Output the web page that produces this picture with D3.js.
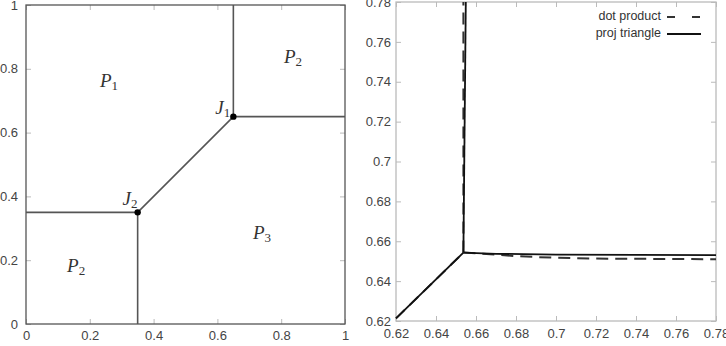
<!DOCTYPE html>
<html>
<head>
<meta charset="utf-8">
<script src="https://cdn.jsdelivr.net/npm/d3@7"></script>
<style>
  body { margin: 0; background: #fff; }
  svg { display: block; }
  .tick text { font-family: "Liberation Sans", Arial, sans-serif; fill: #444; }
</style>
</head>
<body>
<svg id="chart" width="726" height="346"></svg>
<script>
// left panel: partition of the unit square
var leftTicks = [0, 0.2, 0.4, 0.6, 0.8, 1];
var leftTickLabels = ["0", "0.2", "0.4", "0.6", "0.8", "1"];
var boundaries = [
  [[0.65, 1], [0.65, 0.65]],
  [[0.65, 0.65], [1, 0.65]],
  [[0.35, 0.35], [0.65, 0.65]],
  [[0, 0.35], [0.35, 0.35]],
  [[0.35, 0], [0.35, 0.35]]
];
var junctions = [[0.65, 0.65], [0.35, 0.35]];
var junctionNames = ["J", "J"];
var junctionSubs = ["1", "2"];
var junctionLabelAt = [[0.617, 0.672], [0.326, 0.385]];
var regionNames = ["P", "P", "P", "P"];
var regionSubs = ["1", "2", "3", "2"];
var regionLabelAt = [[0.26, 0.755], [0.837, 0.83], [0.74, 0.28], [0.157, 0.175]];

// right panel: zoom near J1
var rightTicks = [0.62, 0.64, 0.66, 0.68, 0.7, 0.72, 0.74, 0.76, 0.78];
var rightTickLabels = ["0.62", "0.64", "0.66", "0.68", "0.7", "0.72", "0.74", "0.76", "0.78"];
var seriesNames = ["dot product", "proj triangle"];
var dotProduct = [
  [[0.62, 0.6213], [0.6537, 0.6543]],
  [[0.6537, 0.6543], [0.6537, 0.78]],
  [[0.6537, 0.6543], [0.66, 0.654], [0.68, 0.6525], [0.70, 0.6517], [0.72, 0.6513], [0.76, 0.6511], [0.78, 0.651]]
];
var projTriangle = [
  [[0.62, 0.6213], [0.6537, 0.6543]],
  [[0.6537, 0.6543], [0.6549, 0.78]],
  [[0.6537, 0.6543], [0.67, 0.6537], [0.70, 0.6533], [0.78, 0.653]]
];

var svg = d3.select("#chart");
var line = d3.line();

// ---------- left panel ----------
var x1 = d3.scaleLinear().domain([0, 1]).range([26, 345]);
var y1 = d3.scaleLinear().domain([0, 1]).range([324, 5]);
var gL = svg.append("g");

function frame(g, x, y, ticks, labels, col, padX, padY) {
  var fmt = function(d, i) { return labels[i]; };
  g.append("g").attr("transform", "translate(0," + y.range()[0] + ")")
    .call(d3.axisBottom(x).tickValues(ticks).tickFormat(fmt).tickSize(-5).tickPadding(padX));
  g.append("g").attr("transform", "translate(0," + y.range()[1] + ")")
    .call(d3.axisTop(x).tickValues(ticks).tickFormat("").tickSize(-5));
  g.append("g").attr("transform", "translate(" + x.range()[0] + ",0)")
    .call(d3.axisLeft(y).tickValues(ticks).tickFormat(fmt).tickSize(-5).tickPadding(padY));
  g.append("g").attr("transform", "translate(" + x.range()[1] + ",0)")
    .call(d3.axisRight(y).tickValues(ticks).tickFormat("").tickSize(-5));
  g.selectAll(".domain").remove();
  g.selectAll(".tick line").attr("stroke", "#bbb");
  g.selectAll(".tick text").style("font-size", "13px");
  g.append("rect")
    .attr("x", x.range()[0]).attr("y", y.range()[1])
    .attr("width", x.range()[1] - x.range()[0]).attr("height", y.range()[0] - y.range()[1])
    .attr("fill", "none").attr("stroke", col).attr("stroke-width", 1.3);
}
frame(gL, x1, y1, leftTicks, leftTickLabels, "#555", 7, 8);

gL.selectAll("path.bd").data(boundaries).enter().append("path")
  .attr("class", "bd")
  .attr("d", function(d) { return line(d.map(function(p) { return [x1(p[0]), y1(p[1])]; })); })
  .attr("fill", "none").attr("stroke", "#555").attr("stroke-width", 1.6);

gL.selectAll("circle").data(junctions).enter().append("circle")
  .attr("cx", function(d) { return x1(d[0]); })
  .attr("cy", function(d) { return y1(d[1]); })
  .attr("r", 3.2).attr("fill", "#000");

function mathLabel(g, names, subs, at) {
  var t = g.selectAll(null).data(at).enter().append("text")
    .attr("x", function(d) { return x1(d[0]); })
    .attr("y", function(d) { return y1(d[1]); })
    .attr("text-anchor", "middle")
    .attr("dominant-baseline", "middle")
    .style("font-family", "'Liberation Serif', 'DejaVu Serif', serif")
    .style("font-size", "19px").attr("fill", "#333");
  t.append("tspan").style("font-style", "italic").text(function(d, i) { return names[i]; });
  t.append("tspan").attr("dy", 4).style("font-size", "13px").text(function(d, i) { return subs[i]; });
}
mathLabel(gL, regionNames, regionSubs, regionLabelAt);
mathLabel(gL, junctionNames, junctionSubs, junctionLabelAt);

// ---------- right panel ----------
var x2 = d3.scaleLinear().domain([0.62, 0.78]).range([396, 716]);
var y2 = d3.scaleLinear().domain([0.62, 0.78]).range([321, 2]);
var gR = svg.append("g");
frame(gR, x2, y2, rightTicks, rightTickLabels, "#bbb", 8, 5);

var toPx = function(d) { return line(d.map(function(p) { return [x2(p[0]), y2(p[1])]; })); };

gR.selectAll("path.dot").data(dotProduct).enter().append("path")
  .attr("class", "dot").attr("d", toPx)
  .attr("fill", "none").attr("stroke", "#333").attr("stroke-width", 2)
  .attr("stroke-dasharray", "12,7");
gR.selectAll("path.proj").data(projTriangle).enter().append("path")
  .attr("class", "proj").attr("d", toPx)
  .attr("fill", "none").attr("stroke", "#111").attr("stroke-width", 1.8);

// legend
var leg = gR.selectAll("g.leg").data(seriesNames).enter().append("g")
  .attr("class", "leg")
  .attr("transform", function(d, i) { return "translate(0," + (17 + i * 17) + ")"; });
leg.append("text")
  .attr("x", 661).attr("dominant-baseline", "middle").attr("text-anchor", "end")
  .style("font-family", "'Liberation Sans', Arial, sans-serif").style("font-size", "12.5px")
  .attr("fill", "#333")
  .text(function(d) { return d; });
leg.append("line")
  .attr("x1", 667).attr("x2", 701).attr("y1", 0).attr("y2", 0)
  .attr("stroke", function(d, i) { return i ? "#111" : "#333"; })
  .attr("stroke-width", function(d, i) { return i ? 1.8 : 2; })
  .attr("stroke-dasharray", function(d, i) { return i ? null : "8,17"; });
</script>
</body>
</html>
